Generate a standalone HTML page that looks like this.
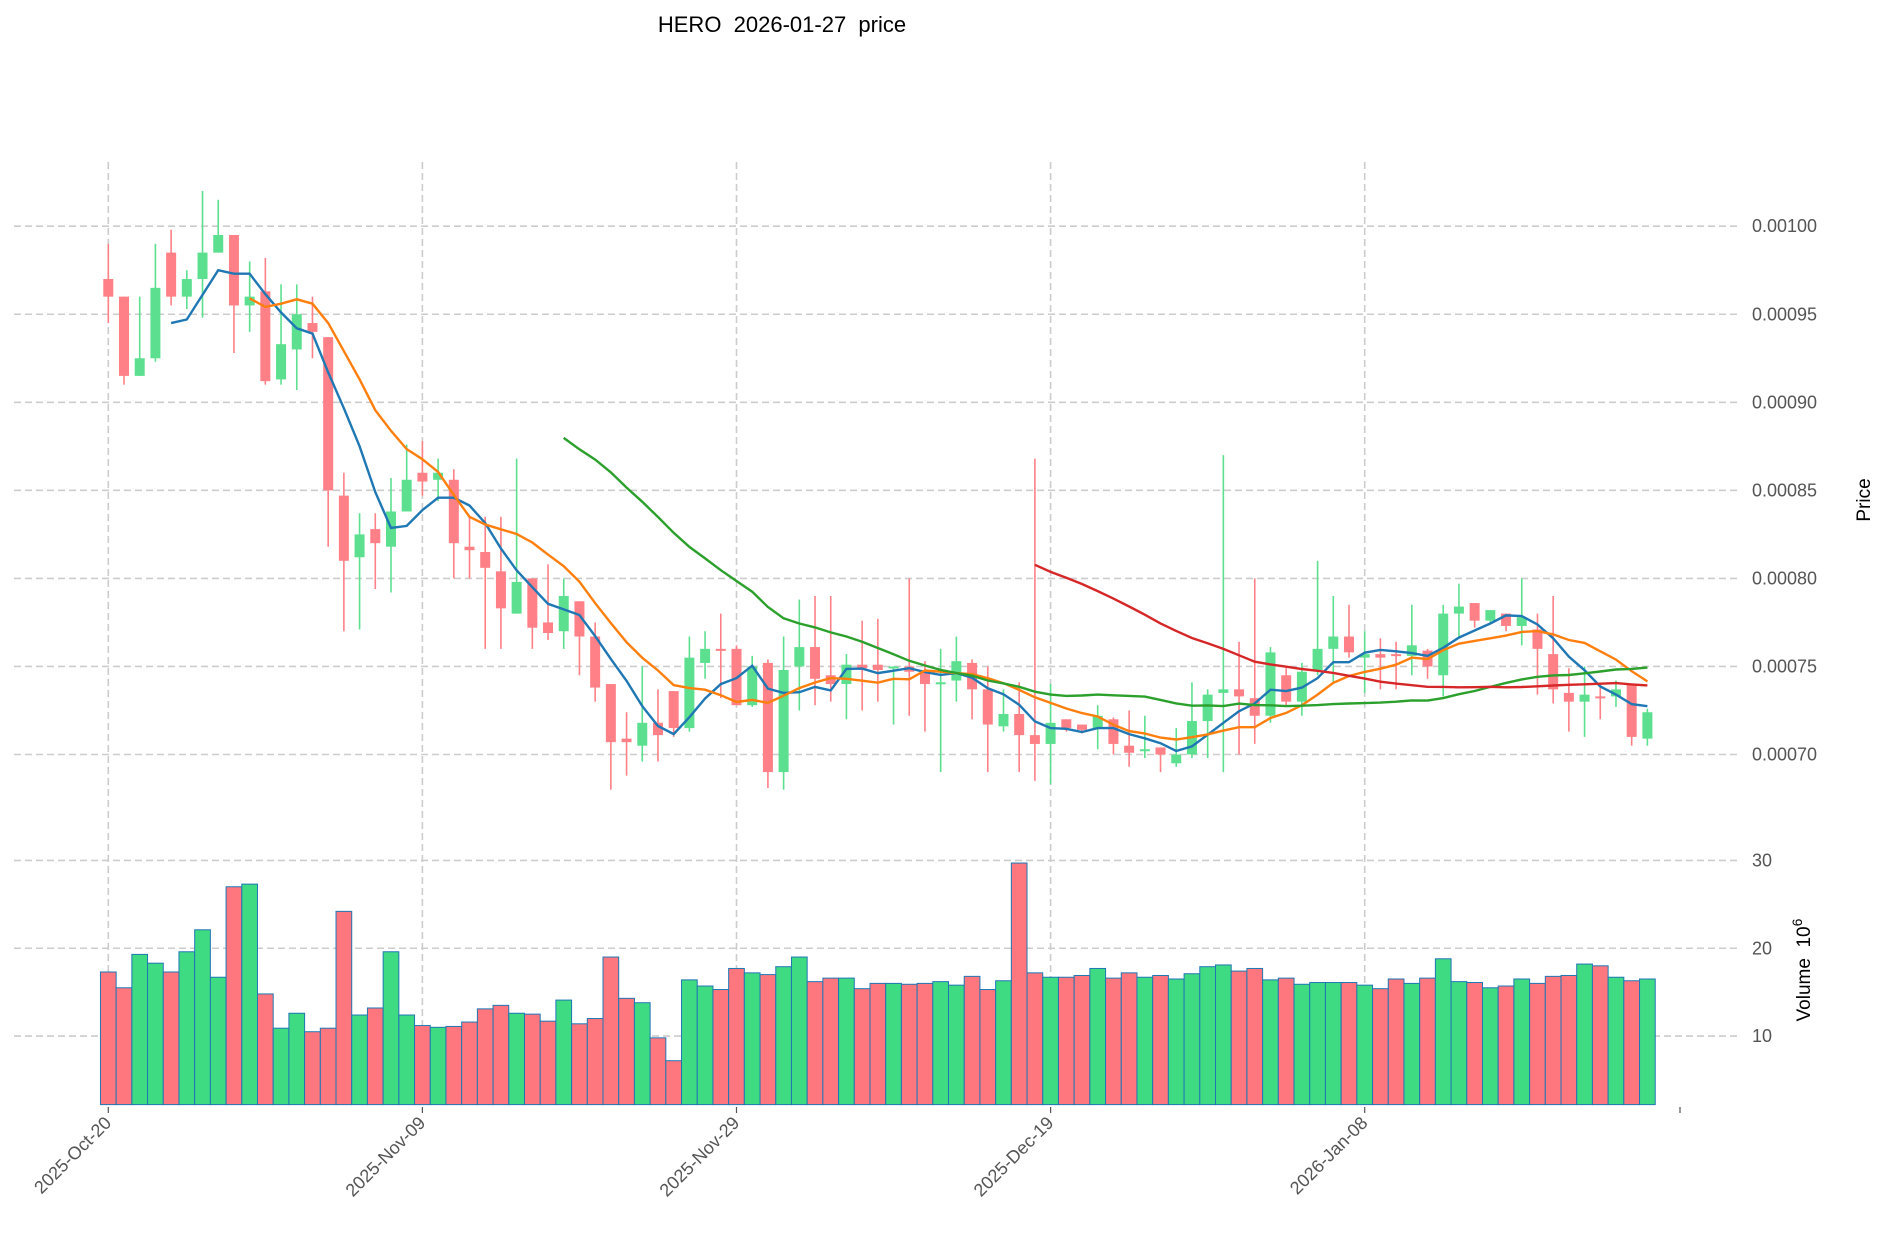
<!DOCTYPE html>
<html><head><meta charset="utf-8"><style>
html,body{margin:0;padding:0;background:#fff}
svg{display:block;font-family:"Liberation Sans","DejaVu Sans",sans-serif}
</style></head><body>
<svg id="chart" width="1887" height="1246" viewBox="0 0 1887 1246" xmlns="http://www.w3.org/2000/svg">
<text x="782" y="32" font-size="22" text-anchor="middle" fill="#000">HERO&#160;&#160;2026-01-27&#160;&#160;price</text>
<text transform="translate(1870,500) rotate(-90)" font-size="19" text-anchor="middle" fill="#000">Price</text>
<text transform="translate(1810,970) rotate(-90)" font-size="19" text-anchor="middle" fill="#000">Volume&#160;&#160;10<tspan dy="-8" font-size="14">6</tspan></text>
<g id="grid"></g><g id="vol"></g><g id="candles"></g><g id="mas"></g><g id="axes"></g>
</svg>
<script>
const opens=[.00097,.00096,.000915,.000925,.000985,.00096,.00097,.000985,.000995,.000955,.000963,.000913,.00093,.000945,.000937,.000847,.000812,.000828,.000818,.000838,.00086,.000856,.000856,.000818,.000815,.000804,.00078,.0008,.000775,.00077,.000787,.000767,.00074,.000709,.000705,.000718,.000736,.000715,.000752,.00076,.00076,.000728,.000752,.00069,.00075,.000761,.000745,.00074,.000751,.000751,.000749,.00075,.000747,.00074,.000742,.000752,.000737,.000716,.000723,.000711,.000706,.00072,.000717,.000715,.00072,.000705,.000702,.000704,.000695,.0007,.000719,.000735,.000737,.000732,.000722,.000745,.00073,.000748,.00076,.000767,.000755,.000757,.000757,.000756,.000759,.000745,.00078,.000786,.000776,.00078,.000773,.000771,.000757,.000735,.00073,.000733,.000733,.00074,.000709];
const closes=[.00096,.000915,.000925,.000965,.00096,.00097,.000985,.000995,.000955,.00096,.000912,.000933,.00095,.00094,.00085,.00081,.000825,.00082,.000838,.000856,.000855,.00086,.00082,.000816,.000806,.000783,.000798,.000772,.000769,.00079,.000767,.000738,.000707,.000707,.000718,.000711,.000715,.000755,.00076,.000759,.000728,.00075,.00069,.000748,.000761,.000743,.00074,.000751,.000749,.000748,.00075,.000747,.00074,.000741,.000753,.000737,.000717,.000723,.000711,.000706,.000718,.000715,.000714,.000722,.000706,.000701,.000703,.0007,.0007,.000719,.000734,.000737,.000733,.000722,.000758,.00073,.000747,.00076,.000767,.000758,.000757,.000755,.000756,.000762,.00075,.00078,.000784,.000776,.000782,.000773,.000778,.00076,.000737,.00073,.000734,.000732,.000737,.00071,.000724];
const highs=[.00099,.00096,.00096,.00099,.000998,.000975,.00102,.001015,.000995,.00098,.000982,.000967,.000967,.00096,.000937,.00086,.000837,.000837,.000857,.000876,.000878,.000868,.000862,.000835,.000835,.000835,.000868,.0008,.000808,.0008,.000787,.000775,.00074,.000724,.00075,.000737,.000736,.000767,.00077,.00078,.000762,.000756,.000754,.000767,.000788,.00079,.00079,.000757,.000776,.000777,.00075,.0008,.000753,.00076,.000767,.000754,.00075,.000737,.000741,.000868,.00074,.00072,.000717,.000728,.000721,.000725,.000722,.000704,.000715,.000741,.000737,.00087,.000764,.0008,.000761,.000749,.000752,.00081,.00079,.000785,.00077,.000766,.000764,.000785,.00076,.000785,.000797,.000786,.000782,.00078,.0008,.00078,.00079,.000749,.00075,.00074,.000742,.00074,.000726];
const lows=[.000945,.00091,.000915,.000923,.000955,.000953,.000948,.000985,.000928,.00094,.00091,.00091,.000907,.000925,.000818,.00077,.000771,.000794,.000792,.000838,.000847,.000844,.0008,.0008,.00076,.00076,.00078,.00076,.000765,.00076,.000745,.00073,.00068,.000688,.000696,.000696,.00071,.000713,.000743,.000732,.000728,.000727,.000681,.00068,.000725,.000728,.00073,.00072,.000725,.00073,.000717,.000722,.000713,.00069,.00073,.00072,.00069,.000713,.00069,.000685,.000683,.000713,.000712,.000703,.0007,.000693,.000698,.00069,.000693,.000698,.000698,.00069,.0007,.000706,.000718,.000727,.000722,.000745,.00074,.000755,.000735,.000737,.000737,.000745,.000743,.000733,.000767,.000772,.000775,.00077,.000762,.000734,.000729,.000713,.00071,.00072,.000727,.000705,.000705];
const volumes=[17.3,15.5,19.3,18.3,17.3,19.6,22.1,16.7,27.0,27.3,14.8,10.9,12.6,10.5,10.9,24.2,12.4,13.2,19.6,12.4,11.2,11.0,11.1,11.6,13.1,13.5,12.6,12.5,11.7,14.1,11.4,12.0,19.0,14.3,13.8,9.8,7.2,16.4,15.7,15.3,17.7,17.2,17.0,17.9,19.0,16.2,16.6,16.6,15.4,16.0,16.0,15.9,16.0,16.2,15.8,16.8,15.3,16.3,29.7,17.2,16.7,16.7,16.9,17.7,16.6,17.2,16.7,16.9,16.5,17.1,17.9,18.1,17.4,17.7,16.4,16.6,15.9,16.1,16.1,16.1,15.8,15.4,16.5,16.0,16.6,18.8,16.2,16.1,15.5,15.7,16.5,16.0,16.8,16.9,18.2,18.0,16.7,16.3,16.5];
const dateLabels=["2025-Oct-20","2025-Nov-09","2025-Nov-29","2025-Dec-19","2026-Jan-08"];
const dateIdx=[0,20,40,60,80];
const priceTicks=[0.0007,0.00075,0.0008,0.00085,0.0009,0.00095,0.001];
const volTicks=[10,20,30];
const maPeriods=[5,10,30,60];
const maColors=["#1f77b4","#ff7f0e","#2ca02c","#d62728"];

const NS="http://www.w3.org/2000/svg";
const X=i=>108.3+15.705*i;
const PY=p=>226.2+(0.001-p)/0.0001*176.1;
const VY=v=>1036.1-(v-10)*8.785;
const L=14,R=1741;
function mk(tag,attrs,parent){const e=document.createElementNS(NS,tag);for(const k in attrs)e.setAttribute(k,attrs[k]);parent.appendChild(e);return e;}
const grid=document.getElementById('grid'),vol=document.getElementById('vol'),cg=document.getElementById('candles'),mg=document.getElementById('mas'),ax=document.getElementById('axes');
dateIdx.forEach((d,k)=>{
  const x=X(d);
  const g=mk('line',{x1:x,x2:x,y1:162,y2:1107,stroke:'#ccc','stroke-width':1.6,'stroke-dasharray':'7,4'},grid);
  
  
  const t=mk('line',{x1:x,x2:x,y1:1107,y2:1113,stroke:'#555','stroke-width':1.2},ax);
  
  
  const lb=mk('text',{transform:`translate(${x+4},${1124}) rotate(-45)`,'font-size':18,'text-anchor':'end',fill:'#555'},ax);
  lb.textContent=dateLabels[k];
  
  
});
{const t=mk('line',{x1:1680,x2:1680,y1:1107,y2:1113,stroke:'#555','stroke-width':1.2},ax);

}
priceTicks.forEach(p=>{
  const y=PY(p);
  const g=mk('line',{x1:L,x2:R,y1:y,y2:y,stroke:'#ccc','stroke-width':1.6,'stroke-dasharray':'7,4'},grid);
  
  
  const t=mk('text',{x:1752,y:y+6,'font-size':18,fill:'#555'},ax);
  t.textContent=p.toFixed(5);
  
  
});
volTicks.forEach(v=>{
  const y=VY(v);
  const g=mk('line',{x1:L,x2:R,y1:y,y2:y,stroke:'#ccc','stroke-width':1.6,'stroke-dasharray':'7,4'},grid);
  
  
  const t=mk('text',{x:1752,y:y+6,'font-size':18,fill:'#555'},ax);
  t.textContent=String(v);
  
  
});
const n=closes.length;
const vb=VY(2.2);
for(let i=0;i<n;i++){
  const up=closes[i]>=opens[i];
  const col=up?'#5ce08f':'#ff8087';
  const x=X(i);
  const v=volumes[i];
  const b=mk('rect',{x:x-7.85,y:VY(v),width:15.7,height:vb-VY(v),fill:up?'#3fdb82':'#ff777e',stroke:'#1f77b4','stroke-width':1},vol);
  
  
  const w=mk('line',{x1:x,x2:x,y1:PY(highs[i]),y2:PY(lows[i]),stroke:col,'stroke-width':1.6},cg);
  
  
  const top=PY(Math.max(opens[i],closes[i])),bot=PY(Math.min(opens[i],closes[i]));
  const r=mk('rect',{x:x-5,y:top,width:10,height:Math.max(bot-top,2),fill:col},cg);
  
  
}
maPeriods.forEach((p,k)=>{
  const pts=[];
  for(let i=p-1;i<n;i++){let s=0;for(let j=i-p+1;j<=i;j++)s+=closes[j];pts.push(X(i).toFixed(1)+','+PY(s/p).toFixed(1));}
  const pl=mk('polyline',{points:pts.join(' '),fill:'none',stroke:maColors[k],'stroke-width':2.4},mg);
  
  
});
</script>
</body></html>
